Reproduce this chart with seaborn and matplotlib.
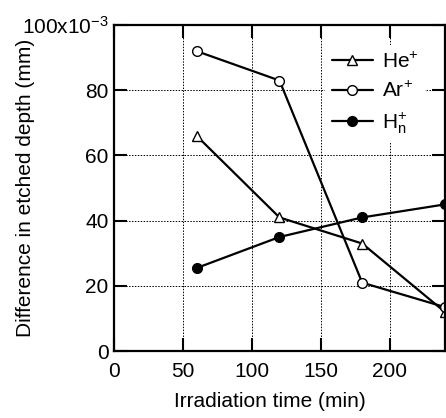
import matplotlib
matplotlib.use("Agg")
import matplotlib.pyplot as plt
import seaborn as sns

# irradiation time (min)
time_min = [60, 120, 180, 240]
# difference in etched depth (x10^-3 mm)
he_depth = [66, 41, 33, 12]
ar_depth = [92, 83, 21, 13.5]
hn_depth = [25.5, 35, 41, 45]

sns.set_style("ticks")
plt.rcParams["font.family"] = ["Liberation Sans", "DejaVu Sans"]
plt.rcParams["mathtext.fontset"] = "custom"
plt.rcParams["mathtext.rm"] = "Liberation Sans"
plt.rcParams["mathtext.it"] = "Liberation Sans"
for key in ["text.color", "axes.labelcolor", "xtick.color", "ytick.color",
            "axes.edgecolor"]:
    plt.rcParams[key] = "black"

fig = plt.figure(figsize=(4.46, 4.18), dpi=100)
ax = fig.add_axes([0.2556, 0.160, 0.742, 0.780])

common = dict(color="black", linewidth=1.6, markersize=7, markeredgewidth=1.0,
              markeredgecolor="black", ax=ax)
sns.lineplot(x=time_min, y=he_depth, marker="^", markerfacecolor="white",
             label="He$^{+}$", **common)
sns.lineplot(x=time_min, y=ar_depth, marker="o", markerfacecolor="white",
             label="Ar$^{+}$", **common)
sns.lineplot(x=time_min, y=hn_depth, marker="o", markerfacecolor="black",
             label="H$_{n}^{+}$", **common)

ax.set_xlim(0, 240)
ax.set_ylim(0, 100)
ax.set_xticks([0, 50, 100, 150, 200])
ax.set_yticks([0, 20, 40, 60, 80, 100])
ax.set_yticklabels(["0", "20", "40", "60", "80", "100x10$^{-3}$"])
ax.grid(True, linestyle=(0, (1.5, 1.5)), color="black", linewidth=0.7)
ax.tick_params(direction="in", length=9.5, width=1.5, top=True, right=True,
               labelsize=15, pad=4)
ax.tick_params(axis="x", pad=8)
for s in ax.spines.values():
    s.set_linewidth(1.6)
    s.set_visible(True)

ax.set_xlabel("Irradiation time (min)", fontsize=15)
ax.set_ylabel("Difference in etched depth (mm)", fontsize=15)
ax.xaxis.set_label_coords(0.47, -0.125)
ax.yaxis.set_label_coords(-0.24, 0.5)

leg = ax.legend(loc="upper right", bbox_to_anchor=(0.97, 0.97), fontsize=15,
                frameon=True, framealpha=1, facecolor="white", edgecolor="none",
                handlelength=2.0, handletextpad=0.4, labelspacing=0.45,
                borderpad=0.3)
leg.get_frame().set_linewidth(0)

fig.savefig("out.png", dpi=100)
